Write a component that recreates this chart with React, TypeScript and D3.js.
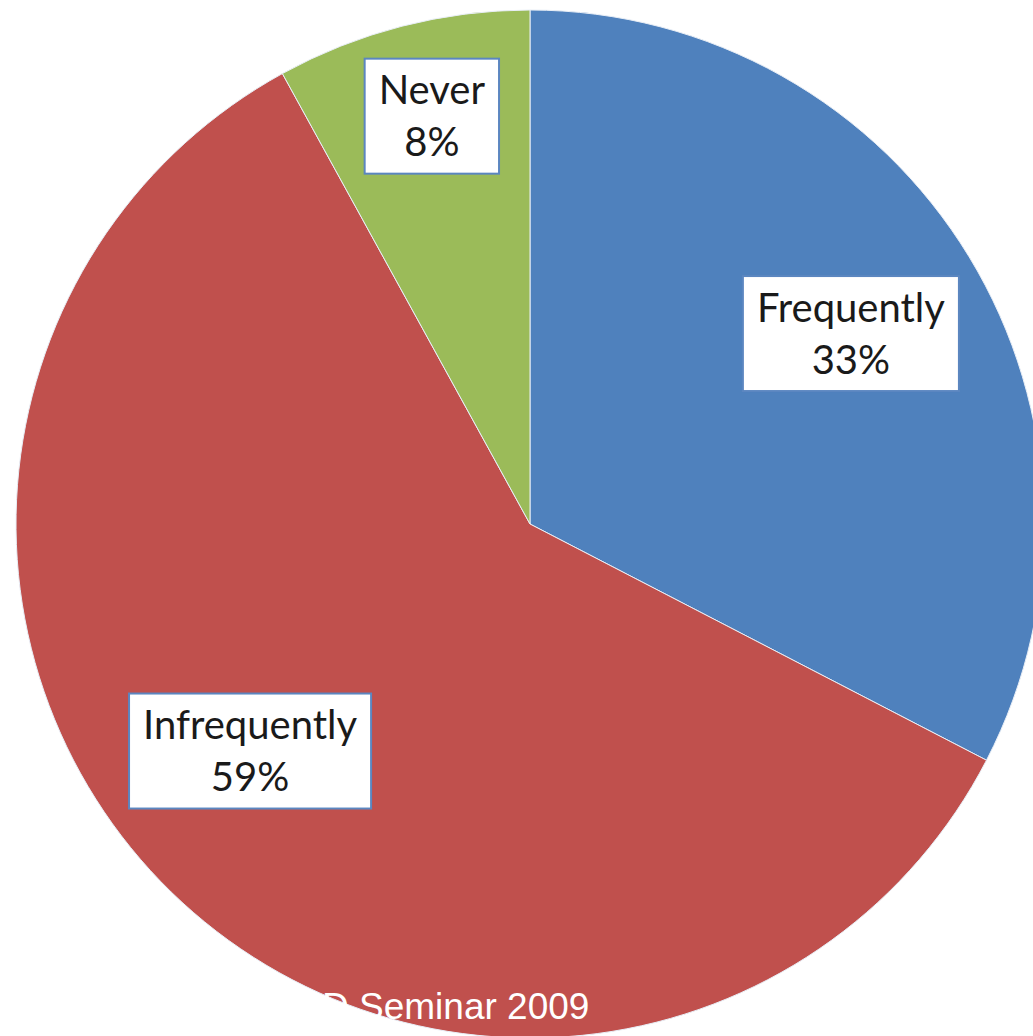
import { useEffect, useRef } from 'react'
import * as d3 from 'd3'

const categories = ['Frequently', 'Infrequently', 'Never']
const values = [32.6, 59.4, 8]
const colors = ['#4F81BD', '#C0504D', '#9BBB59']
const footer = 'D Seminar 2009'

const W = 1033
const H = 1036
const CX = 530
const CY = 524
const R = 514
// label placement (fraction of radius, angle nudge in degrees)
const LABEL_POS = [
  { r: 0.727, da: 0.5 },
  { r: 0.7, da: 6.8 },
  { r: 0.818, da: 0.9 },
]

export default function App() {
  const svgRef = useRef<SVGSVGElement>(null)

  useEffect(() => {
    if (!svgRef.current) return
    document.body.style.margin = '0'
    const svg = d3.select(svgRef.current)
    svg.selectAll('*').remove()

    const data = categories.map((c, i) => ({ name: c, value: values[i], color: colors[i] }))
    const pie = d3.pie<typeof data[0]>().value(d => d.value).sort(null)
    const arcs = pie(data)
    const arc = d3.arc<d3.PieArcDatum<typeof data[0]>>().innerRadius(0).outerRadius(R)

    const g = svg.append('g').attr('transform', `translate(${CX},${CY})`)

    g.selectAll('path')
      .data(arcs)
      .join('path')
      .attr('d', arc)
      .attr('fill', d => d.data.color)
      .attr('stroke', '#e8eef6')
      .attr('stroke-width', 1)

    // footer text (white, mostly hidden on white background)
    svg.append('text')
      .attr('x', 322).attr('y', 1019)
      .attr('fill', '#fff')
      .style('font-family', '"Liberation Sans", Arial, sans-serif')
      .style('font-size', '37px')
      .text(footer)

    // data labels
    arcs.forEach((a, i) => {
      const pos = LABEL_POS[i]
      const mid = (a.startAngle + a.endAngle) / 2 + (pos.da * Math.PI) / 180
      const lx = CX + Math.sin(mid) * R * pos.r
      const ly = CY - Math.cos(mid) * R * pos.r

      const lg = svg.append('g').attr('transform', `translate(${lx},${ly})`)
      const rect = lg.append('rect')
      const txt = lg.append('text')
        .attr('text-anchor', 'middle')
        .attr('fill', '#1a1a1a')
        .style('font-family', 'Lato, "Open Sans", sans-serif')
        .style('font-size', '40px')
      txt.append('tspan').attr('x', 0).attr('y', -11).text(a.data.name)
      txt.append('tspan').attr('x', 0).attr('y', 41).text(`${Math.round(a.data.value)}%`)

      const tw = (txt.select('tspan').node() as SVGTSpanElement).getComputedTextLength()
      const bw = tw + 28
      const bh = 115
      rect.attr('x', -bw / 2).attr('y', -bh / 2 + 1)
        .attr('width', bw).attr('height', bh)
        .attr('fill', '#fff')
        .attr('stroke', '#5b86c0')
        .attr('stroke-width', 2)
    })
  }, [])

  return (
    <svg ref={svgRef} width={W} height={H} style={{ position: 'absolute', left: 0, top: 0, display: 'block' }} />
  )
}
